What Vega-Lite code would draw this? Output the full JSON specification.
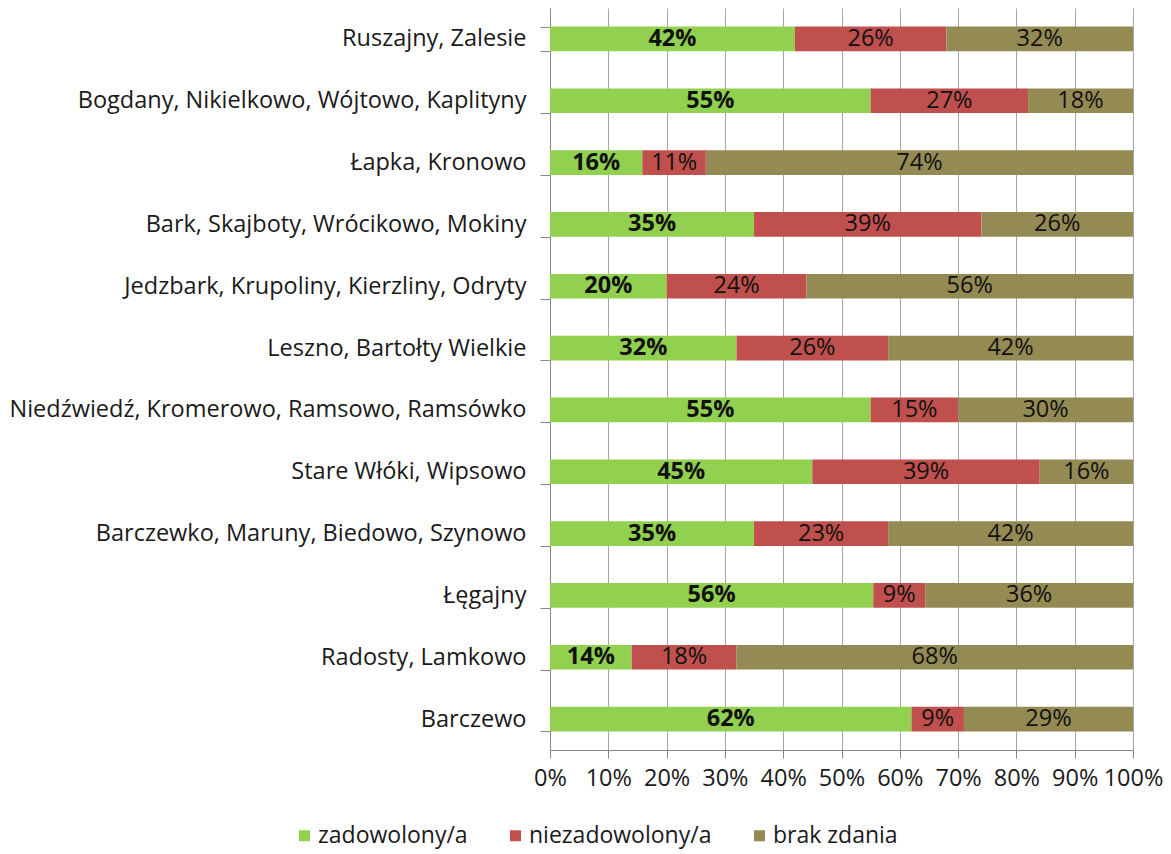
{
  "$schema": "https://vega.github.io/schema/vega-lite/v6.json",
  "width": 583,
  "height": 742,
  "autosize": "none",
  "padding": {"left": 550, "top": 8, "right": 38, "bottom": 104},
  "background": "white",
  "config": {
    "font": "Open Sans",
    "view": {"stroke": null},
    "axis": {"labelFont": "Open Sans", "labelColor": "#1a1a1a", "labelFontSize": 23.5, "domainColor": "#868686", "tickColor": "#868686"}
  },
  "data": {
    "values": [
      {"cat": "Ruszajny, Zalesie", "series": "zadowolony/a", "order": 1, "share": 0.42},
      {"cat": "Ruszajny, Zalesie", "series": "niezadowolony/a", "order": 2, "share": 0.26},
      {"cat": "Ruszajny, Zalesie", "series": "brak zdania", "order": 3, "share": 0.32},
      {"cat": "Bogdany, Nikielkowo, Wójtowo, Kaplityny", "series": "zadowolony/a", "order": 1, "share": 0.55},
      {"cat": "Bogdany, Nikielkowo, Wójtowo, Kaplityny", "series": "niezadowolony/a", "order": 2, "share": 0.27},
      {"cat": "Bogdany, Nikielkowo, Wójtowo, Kaplityny", "series": "brak zdania", "order": 3, "share": 0.18},
      {"cat": "Łapka, Kronowo", "series": "zadowolony/a", "order": 1, "share": 0.16},
      {"cat": "Łapka, Kronowo", "series": "niezadowolony/a", "order": 2, "share": 0.11},
      {"cat": "Łapka, Kronowo", "series": "brak zdania", "order": 3, "share": 0.74},
      {"cat": "Bark, Skajboty, Wrócikowo, Mokiny", "series": "zadowolony/a", "order": 1, "share": 0.35},
      {"cat": "Bark, Skajboty, Wrócikowo, Mokiny", "series": "niezadowolony/a", "order": 2, "share": 0.39},
      {"cat": "Bark, Skajboty, Wrócikowo, Mokiny", "series": "brak zdania", "order": 3, "share": 0.26},
      {"cat": "Jedzbark, Krupoliny, Kierzliny, Odryty", "series": "zadowolony/a", "order": 1, "share": 0.20},
      {"cat": "Jedzbark, Krupoliny, Kierzliny, Odryty", "series": "niezadowolony/a", "order": 2, "share": 0.24},
      {"cat": "Jedzbark, Krupoliny, Kierzliny, Odryty", "series": "brak zdania", "order": 3, "share": 0.56},
      {"cat": "Leszno, Bartołty Wielkie", "series": "zadowolony/a", "order": 1, "share": 0.32},
      {"cat": "Leszno, Bartołty Wielkie", "series": "niezadowolony/a", "order": 2, "share": 0.26},
      {"cat": "Leszno, Bartołty Wielkie", "series": "brak zdania", "order": 3, "share": 0.42},
      {"cat": "Niedźwiedź, Kromerowo, Ramsowo, Ramsówko", "series": "zadowolony/a", "order": 1, "share": 0.55},
      {"cat": "Niedźwiedź, Kromerowo, Ramsowo, Ramsówko", "series": "niezadowolony/a", "order": 2, "share": 0.15},
      {"cat": "Niedźwiedź, Kromerowo, Ramsowo, Ramsówko", "series": "brak zdania", "order": 3, "share": 0.30},
      {"cat": "Stare Włóki, Wipsowo", "series": "zadowolony/a", "order": 1, "share": 0.45},
      {"cat": "Stare Włóki, Wipsowo", "series": "niezadowolony/a", "order": 2, "share": 0.39},
      {"cat": "Stare Włóki, Wipsowo", "series": "brak zdania", "order": 3, "share": 0.16},
      {"cat": "Barczewko, Maruny, Biedowo, Szynowo", "series": "zadowolony/a", "order": 1, "share": 0.35},
      {"cat": "Barczewko, Maruny, Biedowo, Szynowo", "series": "niezadowolony/a", "order": 2, "share": 0.23},
      {"cat": "Barczewko, Maruny, Biedowo, Szynowo", "series": "brak zdania", "order": 3, "share": 0.42},
      {"cat": "Łęgajny", "series": "zadowolony/a", "order": 1, "share": 0.56},
      {"cat": "Łęgajny", "series": "niezadowolony/a", "order": 2, "share": 0.09},
      {"cat": "Łęgajny", "series": "brak zdania", "order": 3, "share": 0.36},
      {"cat": "Radosty, Lamkowo", "series": "zadowolony/a", "order": 1, "share": 0.14},
      {"cat": "Radosty, Lamkowo", "series": "niezadowolony/a", "order": 2, "share": 0.18},
      {"cat": "Radosty, Lamkowo", "series": "brak zdania", "order": 3, "share": 0.68},
      {"cat": "Barczewo", "series": "zadowolony/a", "order": 1, "share": 0.62},
      {"cat": "Barczewo", "series": "niezadowolony/a", "order": 2, "share": 0.09},
      {"cat": "Barczewo", "series": "brak zdania", "order": 3, "share": 0.29}
    ]
  },
  "transform": [
    {"stack": "share", "groupby": ["cat"], "sort": [{"field": "order", "order": "ascending"}], "offset": "normalize", "as": ["s0", "s1"]}
  ],
  "encoding": {
    "y": {
      "field": "cat", "type": "nominal", "sort": null, "title": null,
      "scale": {"paddingInner": 0.6, "paddingOuter": 0.3},
      "axis": {"tickBand": "extent", "tickSize": 10, "labelPadding": 14, "labelLimit": 600, "domainColor": "#868686"}
    }
  },
  "layer": [
    {
      "mark": {"type": "bar"},
      "encoding": {
        "x": {
          "field": "s0", "type": "quantitative", "title": null,
          "scale": {"domain": [0, 1], "nice": false},
          "axis": {"format": ".0%", "values": [0, 0.1, 0.2, 0.3, 0.4, 0.5, 0.6, 0.7, 0.8, 0.9, 1], "grid": true, "gridColor": "#a6a6a6", "tickSize": 8, "labelPadding": 8, "labelFlush": false}
        },
        "x2": {"field": "s1"},
        "color": {
          "field": "series", "type": "nominal", "title": null,
          "scale": {"domain": ["zadowolony/a", "niezadowolony/a", "brak zdania"], "range": ["#92d050", "#c0504d", "#948a54"]},
          "legend": {"orient": "none", "legendX": -257, "legendY": 816, "direction": "horizontal", "symbolType": "square", "symbolSize": 121, "symbolStrokeWidth": 0, "labelFontSize": 23, "labelFont": "Open Sans", "labelColor": "#1a1a1a", "labelLimit": 400, "columnPadding": 36, "labelOffset": 2}
        }
      }
    },
    {
      "transform": [
        {"filter": "datum.series == 'zadowolony/a'"},
        {"fold": ["s0", "s1"], "as": ["k", "p"]}
      ],
      "mark": {"type": "text", "fontSize": 23.5, "fontWeight": "bold", "color": "#111111", "baseline": "middle"},
      "encoding": {
        "x": {"field": "p", "type": "quantitative", "aggregate": "mean"},
        "text": {"field": "share", "type": "quantitative", "format": ".0%"}
      }
    },
    {
      "transform": [
        {"filter": "datum.series != 'zadowolony/a'"},
        {"fold": ["s0", "s1"], "as": ["k", "p"]}
      ],
      "mark": {"type": "text", "fontSize": 23.5, "color": "#111111", "baseline": "middle"},
      "encoding": {
        "x": {"field": "p", "type": "quantitative", "aggregate": "mean"},
        "text": {"field": "share", "type": "quantitative", "format": ".0%"}
      }
    }
  ]
}
